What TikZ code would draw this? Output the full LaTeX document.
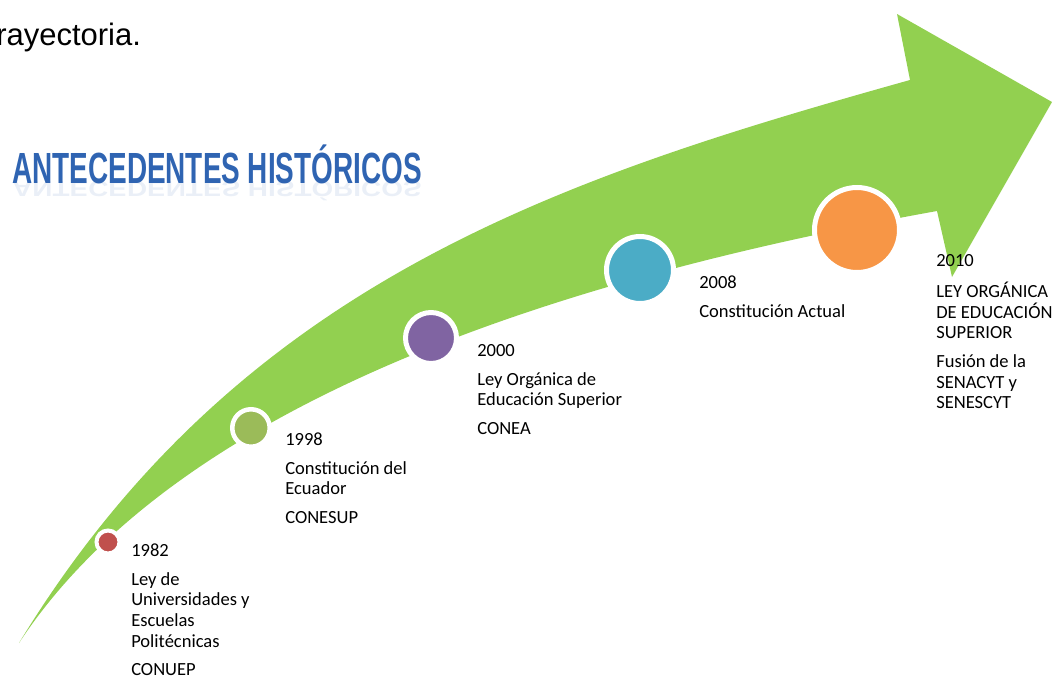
\documentclass[tikz,border=0pt]{standalone}
\usepackage{fontspec}
\setmainfont{Carlito}
\newfontfamily\arialf{Liberation Sans}
\definecolor{arrowgreen}{HTML}{92D050}
\definecolor{cRed}{HTML}{C0504D}
\definecolor{cOlive}{HTML}{9BBB59}
\definecolor{cPurple}{HTML}{8064A2}
\definecolor{cBlue}{HTML}{4BACC6}
\definecolor{cOrange}{HTML}{F79646}
\definecolor{wordblue}{HTML}{2F64B2}
\tikzset{
  dot/.style={circle, draw=white, inner sep=0pt},
  lbl/.style={anchor=north west, align=left, inner sep=0pt, font=\fontsize{13.9}{15.4}\selectfont},
}
\begin{document}
\begin{tikzpicture}[x=0.75pt,y=-0.75pt]
\useasboundingbox (0,0) rectangle (1052,678);
% arrow
\fill[arrowgreen] (19,643) .. controls (239,282) and (560,178) .. (910,80)
  -- (897,14) -- (1052,102) -- (952,277) -- (937,211)
  .. controls (587,274) and (184,392) .. (19,643) -- cycle;
% heading text
\node[anchor=base west, inner sep=0pt, font=\arialf\fontsize{23.25}{28}\selectfont] (tray) at (-4,45) {rayectoria.};
% word art
\node[inner sep=0pt, text=wordblue] (title) at (217,164) {\resizebox{307pt}{29pt}{\arialf\bfseries ANTECEDENTES HISTÓRICOS}};
\node[inner sep=0pt, text=wordblue, opacity=0.1, anchor=north] (titlerefl) at (217,181) {\scalebox{1}[-0.5]{\resizebox{307pt}{29pt}{\arialf\bfseries ANTECEDENTES HISTÓRICOS}}};
% circles
\node[dot, fill=cRed,    minimum size=17.25pt, line width=3pt]   (d1982) at (108,542) {};
\node[dot, fill=cOlive,  minimum size=28.1pt,  line width=3.4pt] (d1998) at (251,428) {};
\node[dot, fill=cPurple, minimum size=38.25pt, line width=3.75pt] (d2000) at (431,338) {};
\node[dot, fill=cBlue,   minimum size=50.25pt, line width=3.75pt] (d2008) at (640,270) {};
\node[dot, fill=cOrange, minimum size=63.75pt, line width=3.75pt] (d2010) at (857,230) {};
% labels
\node[lbl] (t1982) at (131,542) {\strut 1982\\[6.2pt]Ley de\\Universidades y\\Escuelas\\Politécnicas\\[6.2pt]CONUEP};
\node[lbl] (t1998) at (285,430.6) {\strut 1998\\[6.4pt]Constitución del\\Ecuador\\[6.4pt]CONESUP};
\node[lbl] (t2000) at (477,341.6) {\strut 2000\\[6.4pt]Ley Orgánica de\\Educación Superior\\[6.4pt]CONEA};
\node[lbl] (t2008) at (699,273.6) {\strut 2008\\[6.4pt]Constitución Actual};
\node[lbl] (t2010) at (936,251.6) {\strut 2010\\[6.4pt]LEY ORGÁNICA\\DE EDUCACIÓN\\SUPERIOR\\[6.4pt]Fusión de la\\SENACYT y\\SENESCYT};
\end{tikzpicture}
\end{document}
